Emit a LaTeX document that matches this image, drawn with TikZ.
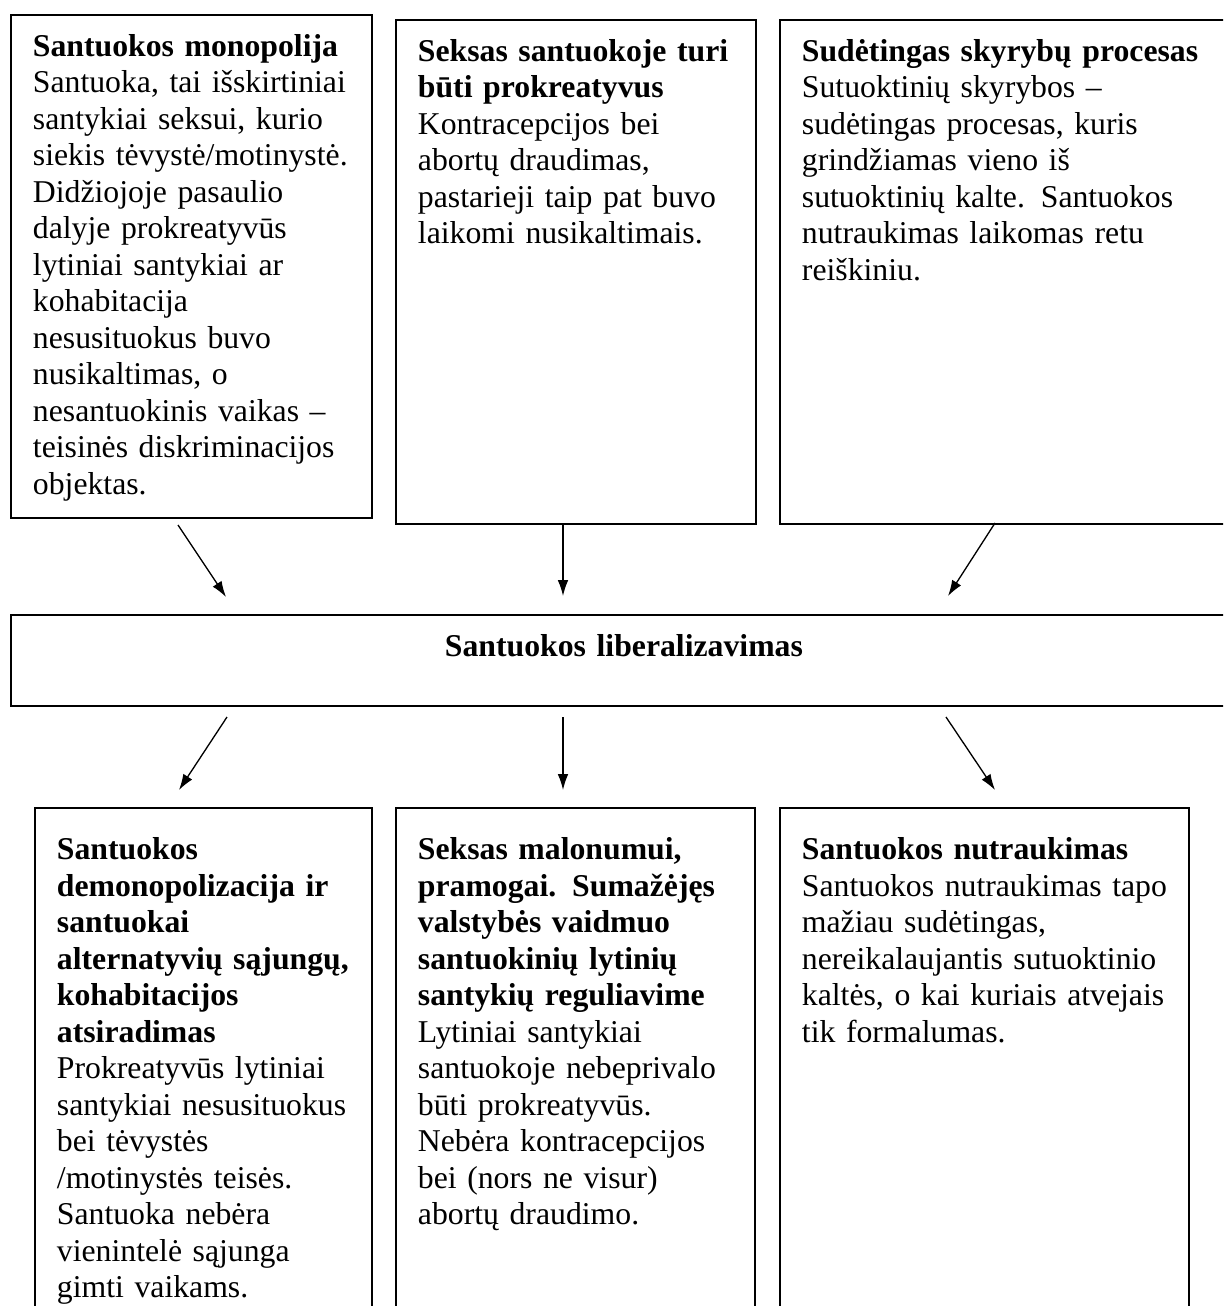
\documentclass[tikz,border=0pt]{standalone}
\usepackage{fontspec}
\setmainfont{Liberation Serif}
\usetikzlibrary{arrows.meta}

\tikzset{
	box/.style={draw=black, line width=0.75pt, anchor=north west, align=left,
		inner xsep=8.3pt, inner ysep=4pt, text height=11.6pt,
		font=\fontsize{12pt}{13.8pt}\selectfont},
	topbox/.style={box, text depth=170.8pt},
	botbox/.style={box, text height=15.6pt, text depth=178.6pt},
	link/.style={-{Latex[length=6pt, width=4pt]}, line width=0.5pt}
}

\begin{document}
\begin{tikzpicture}[x=0.3781pt, y=-0.3781pt]
			\useasboundingbox (0, 0) rectangle (1223, 1306);
			\clip (0, 0) rectangle (1223, 1306);
			%Top boxes:
			\path
				(10, 14) node[topbox, text width=119.9pt, text depth=170.6pt] (monopolija)
				{\textbf{Santuokos monopolija}\\
				Santuoka, tai išskirtiniai\\
				santykiai seksui, kurio\\
				siekis tėvystė/motinystė.\\
				Didžiojoje pasaulio\\
				dalyje prokreatyvūs\\
				lytiniai santykiai ar\\
				kohabitacija\\
				nesusituokus buvo\\
				nusikaltimas, o\\
				nesantuokinis vaikas –\\
				teisinės diskriminacijos\\
				objektas.}
				(395, 19) node[topbox, text width=119.5pt] (prokreacija)
				{\textbf{Seksas santuokoje turi}\\
				\textbf{būti prokreatyvus}\\
				Kontracepcijos bei\\
				abortų draudimas,\\
				pastarieji taip pat buvo\\
				laikomi nusikaltimais.}
				(779, 19) node[topbox, text width=175pt] (skyrybos)
				{\textbf{Sudėtingas skyrybų procesas}\\
				Sutuoktinių skyrybos –\\
				sudėtingas procesas, kuris\\
				grindžiamas vieno iš\\
				sutuoktinių kalte. Santuokos\\
				nutraukimas laikomas retu\\
				reiškiniu.};
			%Middle box:
			\path
				(10, 614) node[box, align=center, text width=446.9pt, text depth=14.8pt] (liberalizavimas)
				{\textbf{Santuokos liberalizavimas}};
			%Bottom boxes:
			\path
				(34, 807) node[botbox, text width=110.8pt] (demonopolizacija)
				{\textbf{Santuokos}\\
				\textbf{demonopolizacija ir}\\
				\textbf{santuokai}\\
				\textbf{alternatyvių sąjungų,}\\
				\textbf{kohabitacijos}\\
				\textbf{atsiradimas}\\
				Prokreatyvūs lytiniai\\
				santykiai nesusituokus\\
				bei tėvystės\\
				/motinystės teisės.\\
				Santuoka nebėra\\
				vienintelė sąjunga\\
				gimti vaikams.}
				(395, 807) node[botbox, text width=119.1pt] (malonumas)
				{\textbf{Seksas malonumui,}\\
				\textbf{pramogai. Sumažėjęs}\\
				\textbf{valstybės vaidmuo}\\
				\textbf{santuokinių lytinių}\\
				\textbf{santykių reguliavime}\\
				Lytiniai santykiai\\
				santuokoje nebeprivalo\\
				būti prokreatyvūs.\\
				Nebėra kontracepcijos\\
				bei (nors ne visur)\\
				abortų draudimo.}
				(779, 807) node[botbox, text width=138pt] (nutraukimas)
				{\textbf{Santuokos nutraukimas}\\
				Santuokos nutraukimas tapo\\
				mažiau sudėtingas,\\
				nereikalaujantis sutuoktinio\\
				kaltės, o kai kuriais atvejais\\
				tik formalumas.};
			%Arrow ends:
			\coordinate (in1) at (178, 525);
			\coordinate (in1e) at (226, 597);
			\coordinate (in2) at (563, 523);
			\coordinate (in2e) at (563, 596);
			\coordinate (in3) at (995, 523);
			\coordinate (in3e) at (948, 596);
			\coordinate (out1) at (227, 717);
			\coordinate (out1e) at (179, 790);
			\coordinate (out2) at (563, 717);
			\coordinate (out2e) at (563, 790);
			\coordinate (out3) at (946, 717);
			\coordinate (out3e) at (995, 790);
			%Arrows:
			\draw[link] (in1) -- (in1e);
			\draw[link] (in2) -- (in2e);
			\draw[link] (in3) -- (in3e);
			\draw[link] (out1) -- (out1e);
			\draw[link] (out2) -- (out2e);
			\draw[link] (out3) -- (out3e);
\end{tikzpicture}
\end{document}
